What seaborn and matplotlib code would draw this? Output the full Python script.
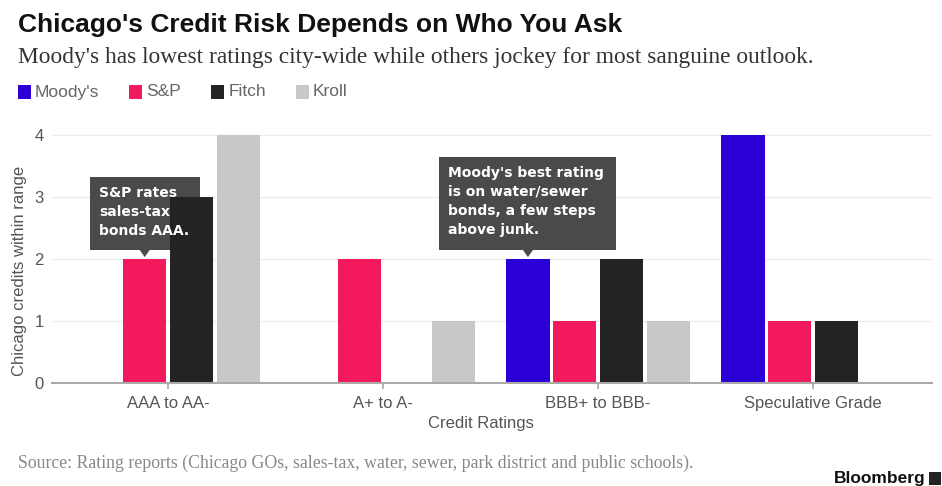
import matplotlib
matplotlib.use("Agg")
import matplotlib.pyplot as plt
from matplotlib.patches import Rectangle, Polygon
import seaborn as sns
import pandas as pd

categories = ["AAA to AA-", "A+ to A-", "BBB+ to BBB-", "Speculative Grade"]
agencies = ["Moody's", "S&P", "Fitch", "Kroll"]
moodys = [0, 0, 2, 4]
sp = [2, 2, 1, 1]
fitch = [3, 0, 2, 1]
kroll = [4, 1, 1, 0]
yticks = [0, 1, 2, 3, 4]
colors = ["#2b00d6", "#f21a5c", "#232323", "#c8c8c8"]

rows = []
for ag, vals in zip(agencies, [moodys, sp, fitch, kroll]):
    for c, v in zip(categories, vals):
        rows.append({"cat": c, "agency": ag, "value": v})
df = pd.DataFrame(rows)

sns.set_theme(style="white")
plt.rcParams["font.family"] = ["Liberation Sans", "DejaVu Sans"]

W, H = 942, 486
fig = plt.figure(figsize=(W / 100, H / 100), dpi=100)


def fx(px):
    return px / W


def fy(py):
    return 1 - py / H


ax = fig.add_axes([fx(52), fy(383), (932 - 52) / W, (383 - 132) / H])

sns.barplot(data=df, x="cat", y="value", hue="agency", order=categories,
            hue_order=agencies, palette=colors, width=0.87, gap=0.07,
            saturation=1, ax=ax, legend=False, linewidth=0, zorder=2)

ax.set_xlim(-0.54, 3.553)
ax.set_ylim(0, 4.05)
ax.set_yticks(yticks)
ax.set_yticklabels([str(t) for t in yticks])
ax.yaxis.grid(True, color="#ececec", linewidth=1, zorder=0)
ax.set_axisbelow(True)
for s in ["top", "right", "left"]:
    ax.spines[s].set_visible(False)
ax.spines["bottom"].set_color("#aaaaaa")
ax.spines["bottom"].set_linewidth(1.5)
ax.tick_params(axis="y", length=0, labelsize=12, labelcolor="#555555", pad=6)
ax.tick_params(axis="x", length=4, color="#aaaaaa", labelsize=12,
               labelcolor="#555555", pad=5, bottom=True, direction="out")
ax.set_xlabel("Credit Ratings", fontsize=12, color="#555555")
ax.xaxis.set_label_coords((481 - 52) / 880, -(423 - 383) / 251, transform=ax.transAxes)
ax.xaxis.label.set_va("center")
ax.set_ylabel("Chicago credits within range", fontsize=12, color="#555555")
ax.yaxis.set_label_coords(-(52 - 20) / 880, (383 - 271) / 251)
ax.yaxis.label.set_va("center")

fig.canvas.draw()


def callout(container_idx, cat_idx, text, x0, y0, x1, y1):
    bar = ax.containers[container_idx][cat_idx]
    bx = bar.get_x() + bar.get_width() / 2
    by = bar.get_height()
    px, py = ax.transData.transform((bx, by))
    tip_y = H - py  # pixel from top
    box = Rectangle((fx(x0), fy(y1)), (x1 - x0) / W, (y1 - y0) / H,
                    transform=fig.transFigure, facecolor="#4a4a4a",
                    edgecolor="none", zorder=1.5, clip_on=False)
    ax.add_patch(box)
    tri = Polygon([(fx(px - 5), fy(y1)), (fx(px + 5), fy(y1)),
                   (fx(px), fy(tip_y - 2))],
                  closed=True, transform=fig.transFigure,
                  facecolor="#4a4a4a", edgecolor="none", zorder=1.5, clip_on=False)
    ax.add_patch(tri)
    fig.text(fx(x0 + 9), fy(y0 + 9), text, ha="left", va="top", color="white",
             fontsize=10, fontweight="bold", linespacing=1.45,
             family=["DejaVu Sans"], zorder=6)


callout(1, 0, "S&P rates\nsales-tax\nbonds AAA.", 90, 177, 200, 250)
callout(0, 2, "Moody's best rating\nis on water/sewer\nbonds, a few steps\nabove junk.",
        439, 157, 616, 250)

# titles
fig.text(fx(18), fy(25), "Chicago's Credit Risk Depends on Who You Ask",
         fontsize=19, fontweight="bold", color="#111111", va="center", ha="left")
fig.text(fx(18), fy(58),
         "Moody's has lowest ratings city-wide while others jockey for most sanguine outlook.",
         fontsize=16.8, color="#333333", va="center", ha="left",
         family=["Liberation Serif", "DejaVu Serif"])

# legend
lx = 18
for ag, col in zip(agencies, colors):
    fig.patches.append(Rectangle((fx(lx), fy(99)), 13 / W, 14 / H,
                                 transform=fig.transFigure, facecolor=col,
                                 edgecolor="none", figure=fig))
    t = fig.text(fx(lx + 17), fy(92), ag, fontsize=12.5, color="#666666",
                 va="center", ha="left")
    fig.canvas.draw()
    w = t.get_window_extent().width
    lx = lx + 17 + w + 30

fig.text(fx(18), fy(463),
         "Source: Rating reports (Chicago GOs, sales-tax, water, sewer, park district and public schools).",
         fontsize=12.8, color="#888888", va="center", ha="left",
         family=["Liberation Serif", "DejaVu Serif"])
fig.text(fx(926), fy(478), "Bloomberg", fontsize=12.5, fontweight="bold",
         color="#111111", va="center", ha="right")
fig.patches.append(Rectangle((fx(929), fy(485)), 12 / W, 13 / H,
                             transform=fig.transFigure, facecolor="#222222",
                             edgecolor="none", figure=fig))

fig.savefig("out.png", dpi=100)
